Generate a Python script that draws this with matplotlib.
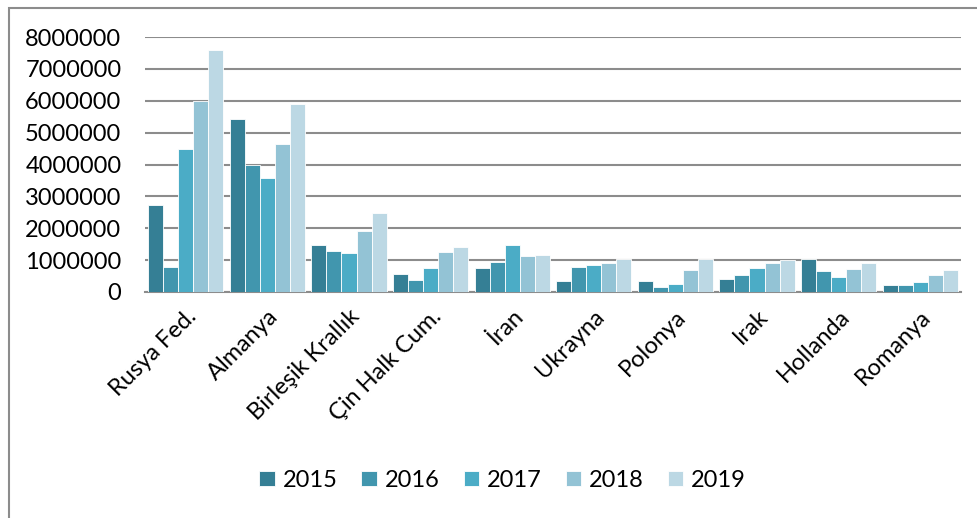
import numpy as np
import matplotlib.pyplot as plt
from matplotlib.patches import Rectangle

# Ülkeler ve yıllar
ulkeler = ['Rusya Fed.', 'Almanya', 'Birleşik Krallık', 'Çin Halk Cum.', 'İran',
           'Ukrayna', 'Polonya', 'Irak', 'Hollanda', 'Romanya']
yillar = ['2015', '2016', '2017', '2018', '2019']

# Değerler (resimden okunan yaklaşık değerler)
v2015 = [2730000, 5440000, 1490000, 560000, 740000, 330000, 330000, 410000, 1030000, 230000]
v2016 = [790000, 3980000, 1280000, 370000, 950000, 790000, 170000, 520000, 660000, 220000]
v2017 = [4480000, 3590000, 1220000, 740000, 1480000, 850000, 240000, 740000, 470000, 300000]
v2018 = [6000000, 4640000, 1900000, 1250000, 1140000, 910000, 690000, 910000, 720000, 530000]
v2019 = [7600000, 5890000, 2470000, 1400000, 1160000, 1040000, 1030000, 990000, 910000, 690000]
seriler = [v2015, v2016, v2017, v2018, v2019]

renkler = ['#357f95', '#4196ae', '#4bacc6', '#93c3d5', '#bcd8e4']

plt.rcParams['font.family'] = ['Lato', 'DejaVu Sans']

fig = plt.figure(figsize=(9.78, 5.18), dpi=100)
ax = fig.add_axes([145 / 978, 1 - 292 / 518, (961 - 145) / 978, (292 - 37) / 518])

x = np.arange(len(ulkeler))
w = 0.184
for i, (vals, c) in enumerate(zip(seriler, renkler)):
    ax.bar(x + (i - 2) * w, vals, width=w, color=c, edgecolor='white',
           linewidth=0.6, label=yillar[i], zorder=3)

ax.set_xlim(-0.5, len(ulkeler) - 0.5)
ax.set_ylim(0, 8000000)
ax.set_yticks(np.arange(0, 8000001, 1000000))
ax.set_yticklabels([str(v) for v in range(0, 8000001, 1000000)], fontsize=17)
ax.yaxis.grid(True, color='#8c8c8c', linewidth=1.5, zorder=0)
ax.set_axisbelow(True)

ax.set_xticks(x)
ax.set_xticklabels(ulkeler, rotation=45, ha='right', rotation_mode='anchor', fontsize=17)
ax.tick_params(axis='y', length=0, pad=17)
ax.tick_params(axis='x', length=0, pad=10)

for s in ['top', 'right', 'left']:
    ax.spines[s].set_visible(False)
ax.spines['bottom'].set_color('#8c8c8c')
ax.spines['bottom'].set_linewidth(1.5)

ax.legend(loc='center', bbox_to_anchor=(0.514, 0.073), bbox_transform=fig.transFigure,
          ncol=5, frameon=False, fontsize=17, handlelength=0.65, handleheight=0.65,
          columnspacing=1.0, handletextpad=0.35)

# Grafik çerçevesi
fig.patches.append(Rectangle((9 / 978, -0.1), 1.2, 1.1 - 8 / 518,
                             transform=fig.transFigure, fill=False,
                             edgecolor='#8c8c8c', linewidth=1.5))

fig.savefig('out.png', dpi=100)
